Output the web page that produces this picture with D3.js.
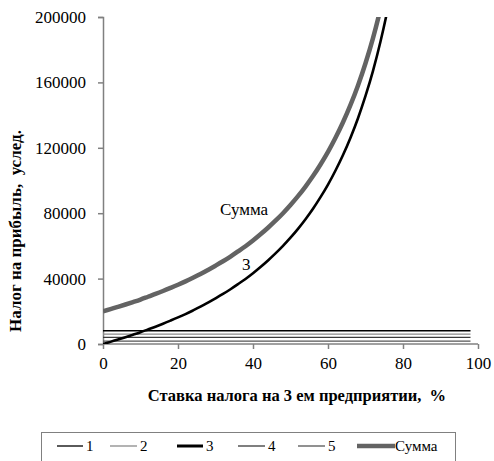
<!DOCTYPE html>
<html><head><meta charset="utf-8">
<script src="https://cdn.jsdelivr.net/npm/d3@7"></script>
<style>body{margin:0;background:#fff}svg{display:block}</style>
</head><body>
<script>
// Data
const xCurve = [0,2,4,6,8,10,12,14,16,18,20,22,24,26,28,30,32,34,36,38,40,42,44,46,48,50,52,54,56,58,60,62,64,66,68,70,72,74,76,78];
const series3 = [0,1300,2700,4150,5650,7200,8900,10600,12400,14300,16250,18300,20500,22800,25300,27900,30600,33500,36600,39800,43300,47100,51100,55400,60000,65000,70400,76300,82700,89800,97500,106100,115600,126200,138100,151700,167100,185000,205800,230500];
const seriesSum = [20000,21300,22700,24150,25650,27200,28900,30600,32400,34300,36250,38300,40500,42800,45300,47900,50600,53500,56600,59800,63300,67100,71100,75400,80000,85000,90400,96300,102700,109800,117500,126100,135600,146200,158100,171700,187100,205000,225800,250500];
const xFlat = [0,98];
const series1 = [8100,8100];
const series2 = [6100,6100];
const series4 = [4000,4000];
const series5 = [1800,1800];
const xTicks = [0,20,40,60,80,100];
const yTicks = [0,40000,80000,120000,160000,200000];
const legendLabels = ["1","2","3","4","5","Сумма"];

const W=494,H=461;
const svg=d3.select("body").append("svg").attr("width",W).attr("height",H);
const font='"Times New Roman", Tinos, "Liberation Serif", "DejaVu Serif", "Noto Serif", serif';
const x=d3.scaleLinear().domain([0,100]).range([103,478]);
const y=d3.scaleLinear().domain([0,200000]).range([344,17]);

svg.append("defs").append("clipPath").attr("id","clip").append("rect")
  .attr("x",103).attr("y",17).attr("width",375).attr("height",327);

// axes
const yAx=svg.append("g").attr("transform","translate(103,0)")
  .call(d3.axisLeft(y).tickValues(yTicks).tickFormat(d3.format("d")).tickSize(5).tickPadding(12));
const xAx=svg.append("g").attr("transform","translate(0,344)")
  .call(d3.axisBottom(x).tickValues(xTicks).tickSize(5).tickPadding(8));
[yAx,xAx].forEach(g=>{
  g.attr("font-family",font).attr("font-size",17);
  g.select(".domain").attr("stroke","#808080").attr("stroke-width",1.5);
  g.selectAll(".tick line").attr("stroke","#808080").attr("stroke-width",1.5);
  g.selectAll("text").attr("fill","#000");
});
xAx.select(".domain").attr("d","M103,0H478");

const plot=svg.append("g").attr("clip-path","url(#clip)");
const line=(xs)=>d3.line().x((d,i)=>x(xs[i])).y(d=>y(d)).curve(d3.curveMonotoneX);
const flats=[[series1,"#000"],[series2,"#8a8a8a"],[series4,"#3a3a3a"],[series5,"#555"]];
flats.forEach(([s,c])=>plot.append("path").attr("d",line(xFlat)(s)).attr("fill","none").attr("stroke",c).attr("stroke-width",1.3));
plot.append("path").attr("d",line(xCurve)(series3)).attr("fill","none").attr("stroke","#000").attr("stroke-width",2.6);
plot.append("path").attr("d",line(xCurve)(seriesSum)).attr("fill","none").attr("stroke","#636363").attr("stroke-width",4.5);

const T=svg.append("g").attr("font-family",font).attr("font-size",15);
// curve labels
T.append("text").attr("x",220).attr("y",215).attr("font-size",17).text("Сумма");
T.append("text").attr("x",242).attr("y",270).attr("font-size",17).text("3");

// axis titles
T.append("text").attr("x",297).attr("y",401).attr("text-anchor","middle")
  .attr("font-size",16.5).attr("font-weight","bold").style("white-space","pre")
  .text("Ставка налога на 3 ем предприятии,  %");
T.append("text").attr("transform","translate(21,231) rotate(-90)").attr("text-anchor","middle")
  .attr("font-size",17).attr("font-weight","bold").style("white-space","pre")
  .text("Налог на прибыль,  услед.");

// legend
svg.append("rect").attr("x",41.5).attr("y",432.5).attr("width",414).attr("height",40)
  .attr("fill","none").attr("stroke","#808080").attr("stroke-width",1);
const leg=[{x:57,w:26,c:"#000",sw:1.3},{x:110,w:27,c:"#8a8a8a",sw:1.3},{x:177,w:26,c:"#000",sw:3},
  {x:238,w:27,c:"#3a3a3a",sw:1.3},{x:298,w:27,c:"#555",sw:1.3},{x:357,w:38,c:"#636363",sw:4.5}];
leg.forEach((l,i)=>{
  svg.append("line").attr("x1",l.x).attr("x2",l.x+l.w).attr("y1",446).attr("y2",446).attr("stroke",l.c).attr("stroke-width",l.sw);
  T.append("text").attr("x",l.x+l.w+(i==5?0:3)).attr("y",451).text(legendLabels[i]);
});
</script>
</body></html>
